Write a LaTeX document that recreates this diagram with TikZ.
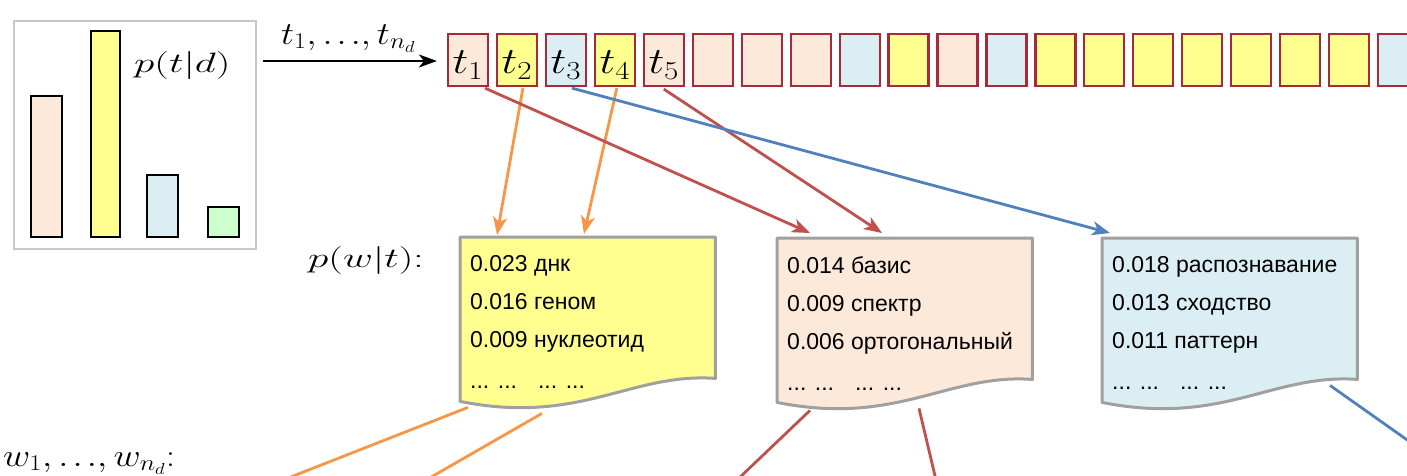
\RequirePackage{fix-cm}
\documentclass[tikz,border=0pt]{standalone}
\usepackage{fontspec}
\setmainfont{Liberation Sans}
\usepackage{graphicx}
\usetikzlibrary{arrows.meta,calc}
\definecolor{peach}{HTML}{FDE9D9}
\definecolor{yel}{HTML}{FFFF8F}
\definecolor{lblue}{HTML}{DAEEF3}
\definecolor{lgreen}{HTML}{CCFFCC}
\definecolor{tokred}{HTML}{A8283C}
\definecolor{docgray}{HTML}{A0A0A0}
\definecolor{chartgray}{HTML}{C8C8C8}
\definecolor{aorange}{HTML}{F79646}
\definecolor{ared}{HTML}{C0504D}
\definecolor{ablue}{HTML}{4F81BD}
\newcommand{\wmseq}[1]{\scalebox{1.15}[1]{$#1$}}
\newcommand{\wmw}[1]{\scalebox{1.17}[1]{$#1$}}
\newcommand{\wmprob}[1]{\scalebox{1.47}[1]{$#1$}}
\newcommand{\wmtok}[1]{\scalebox{1.2}[1]{$#1$}}
\newcommand{\tdots}{{.}\mkern2mu{.}\mkern2mu{.}}
\begin{document}
\begin{tikzpicture}[x=1pt,y=-1pt,
  mathlbl/.style={inner sep=0pt, font=\fontsize{28}{28}\selectfont},
  seqlbl/.style={inner sep=0pt, font=\fontsize{32}{32}\selectfont},
  tok/.style={draw=tokred, line width=2.2pt, minimum width=40pt, minimum height=52pt, inner sep=0pt, text height=27pt, text depth=0pt, font=\fontsize{37}{37}\selectfont},
  bar/.style={draw=black, line width=1.5pt},
  docbox/.style={minimum width=255pt, minimum height=141pt, inner sep=0pt, anchor=north west},
  docline/.style={draw=docgray, line width=3pt, line join=round},
  doctext/.style={inner sep=0pt, anchor=north west, align=left, font=\fontsize{23}{38}\selectfont},
  link/.style={line width=2.8pt},
  linkarr/.style={link, -{Stealth[length=18pt,width=14pt,inset=5pt]}},
]
\clip (0,0) rectangle (1407,475);

% chart
\node[draw=chartgray, line width=1.5pt, minimum width=242pt, minimum height=228pt, inner sep=0pt, anchor=north west] (chart) at (13,20) {};
\draw[bar, fill=peach] (31,96) rectangle (62,237);
\draw[bar, fill=yel] (91,31) rectangle (120,237);
\draw[bar, fill=lblue] (147,175) rectangle (178,237);
\draw[bar, fill=lgreen] (208,207) rectangle (239,237);
\node[mathlbl, anchor=base west] (ptd) at (134,72) {\wmprob{p(t|d)}};

% tokens
\foreach \c/\l [count=\i] in {peach/t_1, yel/t_2, lblue/t_3, yel/t_4, peach/t_5, peach/, peach/, peach/, lblue/, yel/, peach/, lblue/, yel/, yel/, yel/, yel/, yel/, yel/, yel/, lblue/}
  \node[tok, fill=\c] (t\i) at ({468+48.95*(\i-1)}, 60) {\wmtok{\l}};

\coordinate (arrstart) at (263,61);
\draw[line width=2.2pt, -{Stealth[length=18pt,width=13pt,inset=5pt]}, shorten >=10pt] (arrstart) -- (t1.west |- arrstart);
\node[seqlbl, anchor=base west] (tseq) at (281,44) {\wmseq{t_1,\tdots,t_{n_d}}};

% documents
\node[docbox] (d1) at (460,237) {};
\node[docbox] (d2) at (777,238) {};
\node[docbox] (d3) at (1102,238) {};
\foreach \d/\c in {d1/yel, d2/peach, d3/lblue}
  \draw[docline, fill=\c] (\d.north west) -- (\d.north east) -- (\d.south east)
    .. controls ($(\d.south east)+(-85,-6)$) and ($(\d.south east)+(-135,47)$) .. ($(\d.south west)+(0,23)$) -- cycle;

\node[doctext] (d1t) at ($(d1.north west)+(10,18)$) {0.023 днк\\0.016 геном\\0.009 нуклеотид\\[3pt]... ...\hspace{21pt}... ...};
\node[doctext] (d2t) at ($(d2.north west)+(10,18)$) {0.014 базис\\0.009 спектр\\0.006 ортогональный\\[3pt]... ...\hspace{21pt}... ...};
\node[doctext] (d3t) at ($(d3.north west)+(10,18)$) {0.018 распознавание\\0.013 сходство\\0.011 паттерн\\[3pt]... ...\hspace{21pt}... ...};

\node[mathlbl, anchor=base west] (pwt) at (308,267) {\wmprob{p(w|t){:}}};
\node[seqlbl, anchor=base west] (wseq) at (3,466) {\wmw{w_1,\tdots,w_{n_d}{:}}};

% links tokens -> documents
\draw[linkarr, aorange] ($(t2.south)+(6,1)$) -- ($(d1.north west)+(37,-2)$);
\draw[linkarr, aorange] ($(t4.south)+(2,1)$) -- ($(d1.north west)+(124,-3)$);
\draw[linkarr, ared] ($(t1.south)+(17,1)$) -- ($(d2.north west)+(33,-5)$);
\draw[linkarr, ared] ($(t5.south)+(0,2)$) -- ($(d2.north west)+(105,-5)$);
\draw[linkarr, ablue] ($(t3.south)+(6,1)$) -- ($(d3.north west)+(8,-5)$);

% links documents -> words
\coordinate (o1end) at (283,480);
\coordinate (o2end) at (426,480);
\coordinate (r1end) at (737,480);
\coordinate (r2end) at (936,480);
\coordinate (b1end) at (1420,449);
\draw[link, aorange] ($(d1.south west)+(8,29)$) -- (o1end);
\draw[link, aorange] ($(d1.south west)+(82,35)$) -- (o2end);
\draw[link, ared] ($(d2.south west)+(33,31)$) -- (r1end);
\draw[link, ared] ($(d2.south west)+(142,29)$) -- (r2end);
\draw[link, ablue] ($(d3.south west)+(228,6)$) -- (b1end);
\end{tikzpicture}
\end{document}
